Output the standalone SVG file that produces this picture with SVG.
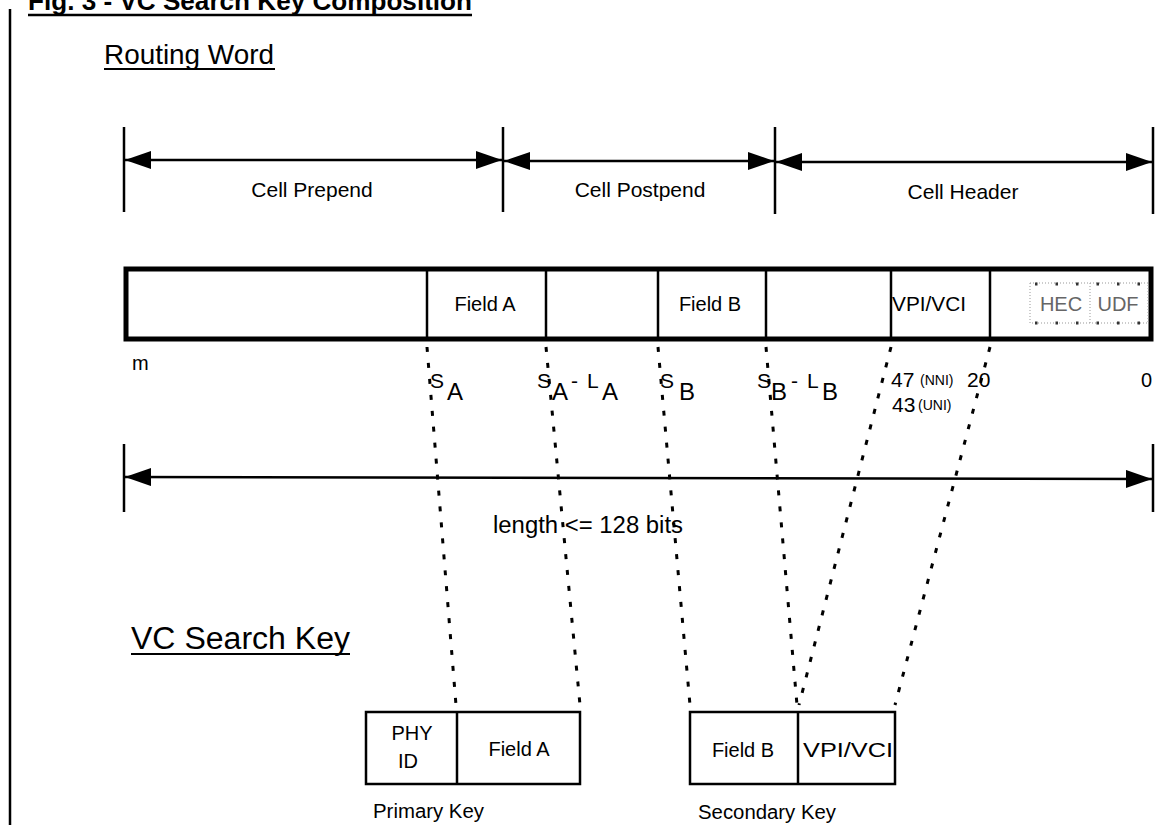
<svg xmlns="http://www.w3.org/2000/svg" width="1159" height="825" viewBox="0 0 1159 825">
<style>
text{font-family:"Liberation Sans",Arial,sans-serif;fill:#000}
.ln{stroke:#000;stroke-width:2.5;fill:none}
.dot{stroke:#000;stroke-width:3;fill:none;stroke-dasharray:5 11}
.lab{font-size:21px;text-anchor:middle}
.fld{font-size:20px;text-anchor:middle}
.hi{font-size:21px}
.lo{font-size:24px}
.sm{font-size:14px}
.hd{font-size:28px}
</style>
<defs>
<marker id="ah" viewBox="0 0 26 18" refX="26" refY="9" markerWidth="26" markerHeight="18" markerUnits="userSpaceOnUse" orient="auto-start-reverse">
<path d="M0,0 L26,9 L0,18 Z" fill="#000"/>
</marker>
</defs>

<g id="title">
<text x="28" y="10" style="font-size:26px;font-weight:bold" textLength="444" lengthAdjust="spacingAndGlyphs">Fig. 3 - VC Search Key Composition</text>
<line x1="28" y1="15" x2="472" y2="15" stroke="#000" stroke-width="2.5"/>
</g>
<line x1="10" y1="9" x2="10" y2="825" class="ln"/>

<g id="routing-word-heading">
<text x="104" y="64" class="hd" textLength="170" lengthAdjust="spacingAndGlyphs">Routing Word</text>
<line x1="104" y1="69" x2="275" y2="69" stroke="#000" stroke-width="2"/>
</g>

<g id="section-arrows">
<line x1="124" y1="127" x2="124" y2="212" class="ln"/>
<line x1="503" y1="127" x2="503" y2="212" class="ln"/>
<line x1="775" y1="127" x2="775" y2="214" class="ln"/>
<line x1="1153" y1="127" x2="1153" y2="214" class="ln"/>
<line x1="125" y1="160" x2="502" y2="160" class="ln" stroke-width="3" marker-start="url(#ah)" marker-end="url(#ah)"/>
<line x1="504" y1="161" x2="774" y2="161" class="ln" stroke-width="3" marker-start="url(#ah)" marker-end="url(#ah)"/>
<line x1="776" y1="162" x2="1152" y2="162" class="ln" stroke-width="3" marker-start="url(#ah)" marker-end="url(#ah)"/>
<text x="312" y="197" class="lab">Cell Prepend</text>
<text x="640" y="197" class="lab">Cell Postpend</text>
<text x="963" y="199" class="lab">Cell Header</text>
</g>

<g id="routing-word-bar">
<rect x="126" y="269" width="1025" height="70" fill="#fff" stroke="#000" stroke-width="5"/>
<line x1="427" y1="269" x2="427" y2="339" class="ln"/>
<line x1="546" y1="269" x2="546" y2="339" class="ln"/>
<line x1="658" y1="269" x2="658" y2="339" class="ln"/>
<line x1="766" y1="269" x2="766" y2="339" class="ln"/>
<line x1="891" y1="269" x2="891" y2="339" class="ln"/>
<line x1="990" y1="269" x2="990" y2="339" class="ln"/>
<text x="485" y="311" class="fld">Field A</text>
<text x="710" y="311" class="fld">Field B</text>
<text x="929" y="311" class="fld" textLength="74" lengthAdjust="spacingAndGlyphs">VPI/VCI</text>
<g id="hec-udf">
<rect x="1030" y="283" width="118" height="40" fill="none" stroke="#999" stroke-width="1" stroke-dasharray="1 2"/>
<line x1="1090" y1="283" x2="1090" y2="323" stroke="#999" stroke-width="1" stroke-dasharray="1 2"/>
<line x1="1035" y1="284" x2="1150" y2="284" stroke="#333" stroke-width="3" stroke-dasharray="2.5 18"/>
<line x1="1035" y1="323" x2="1150" y2="323" stroke="#333" stroke-width="3" stroke-dasharray="2.5 18"/>
<text x="1061" y="311" class="fld" style="fill:#666">HEC</text>
<text x="1118" y="311" class="fld" style="fill:#666">UDF</text>
</g>
</g>

<g id="bit-labels">
<text x="132" y="370" style="font-size:20px">m</text>
<text x="430" y="388" class="hi">S</text><text x="447" y="400" class="lo">A</text>
<text x="537" y="388" class="hi">S</text><text x="552" y="400" class="lo">A</text><text x="571" y="388" class="hi">-</text><text x="587" y="388" class="hi">L</text><text x="602" y="400" class="lo">A</text>
<text x="660" y="388" class="hi">S</text><text x="679" y="400" class="lo">B</text>
<text x="757" y="388" class="hi">S</text><text x="771" y="400" class="lo">B</text><text x="791" y="388" class="hi">-</text><text x="807" y="388" class="hi">L</text><text x="822" y="400" class="lo">B</text>
<text x="891" y="387" class="hi">47</text><text x="920" y="385" class="sm">(NNI)</text>
<text x="967" y="387" class="hi">20</text>
<text x="892" y="412" class="hi">43</text><text x="918" y="410" class="sm">(UNI)</text>
<text x="1141" y="387" style="font-size:20px">0</text>
</g>

<g id="length-arrow">
<line x1="124" y1="444" x2="124" y2="512" class="ln"/>
<line x1="1153" y1="444" x2="1153" y2="512" class="ln"/>
<line x1="125" y1="477" x2="1152" y2="479" class="ln" stroke-width="3" marker-start="url(#ah)" marker-end="url(#ah)"/>
<text x="493" y="533" style="font-size:23.5px" textLength="190" lengthAdjust="spacingAndGlyphs">length &lt;= 128 bits</text>
</g>

<g id="connectors">
<line x1="427" y1="347" x2="456" y2="705" class="dot"/>
<line x1="546" y1="347" x2="580" y2="705" class="dot"/>
<line x1="658" y1="347" x2="690" y2="705" class="dot"/>
<line x1="766" y1="347" x2="797" y2="705" class="dot"/>
<line x1="891" y1="347" x2="799" y2="705" class="dot"/>
<line x1="990" y1="347" x2="895" y2="705" class="dot"/>
</g>

<g id="vc-search-key-heading">
<text x="131" y="649" style="font-size:31px" textLength="219" lengthAdjust="spacingAndGlyphs">VC Search Key</text>
<line x1="131" y1="654" x2="350" y2="654" stroke="#000" stroke-width="2"/>
</g>

<g id="primary-key">
<rect x="366" y="712" width="214" height="72" fill="#fff" class="ln"/>
<line x1="457" y1="712" x2="457" y2="784" class="ln"/>
<text x="412" y="740" class="fld">PHY</text>
<text x="408" y="768" class="fld">ID</text>
<text x="519" y="756" class="fld">Field A</text>
<text x="373" y="818" style="font-size:20px" textLength="111" lengthAdjust="spacingAndGlyphs">Primary Key</text>
</g>

<g id="secondary-key">
<rect x="690" y="712" width="205" height="72" fill="#fff" class="ln"/>
<line x1="798" y1="712" x2="798" y2="784" class="ln"/>
<text x="743" y="757" class="fld">Field B</text>
<text x="848" y="757" class="fld" textLength="90" lengthAdjust="spacingAndGlyphs">VPI/VCI</text>
<text x="698" y="819" style="font-size:20px" textLength="138" lengthAdjust="spacingAndGlyphs">Secondary Key</text>
</g>
</svg>
